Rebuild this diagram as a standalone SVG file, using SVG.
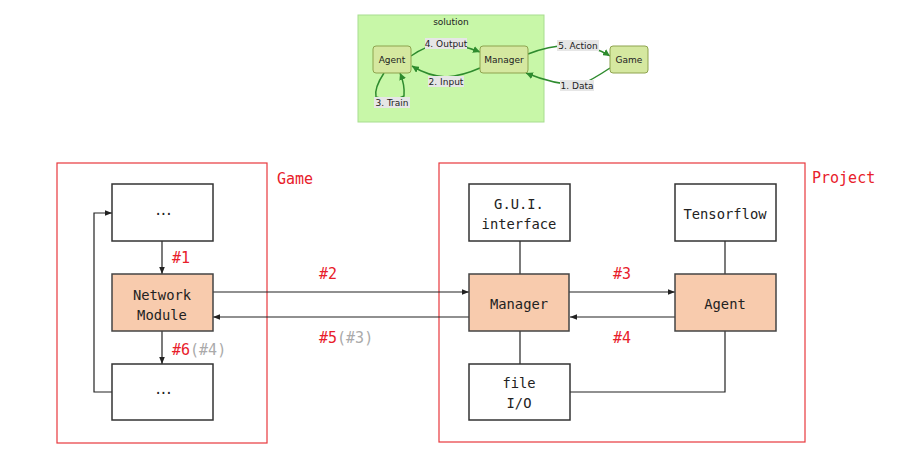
<svg xmlns="http://www.w3.org/2000/svg" width="898" height="461" viewBox="0 0 898 461">
<defs>
<marker id="arr" viewBox="0 0 10 10" refX="10" refY="5" markerWidth="7" markerHeight="7" orient="auto-start-reverse" markerUnits="userSpaceOnUse"><path d="M0,1 L10,5 L0,9 z" fill="#222"/></marker>
<marker id="garr" viewBox="0 0 10 10" refX="10" refY="5" markerWidth="7" markerHeight="7" orient="auto-start-reverse" markerUnits="userSpaceOnUse"><path d="M0,0 L10,5 L0,10 z" fill="#2e8b2e"/></marker>
<style>
.box{fill:#fff;stroke:#333;stroke-width:1.5}
.hot{fill:#f8cbad;stroke:#444;stroke-width:1.5}
.cont{fill:none;stroke:#e8383d;stroke-width:1.2}
.t{font-family:"DejaVu Sans Mono",monospace;font-size:13.8px;fill:#222;text-anchor:middle}
.r{font-family:"DejaVu Sans Mono",monospace;font-size:15px;fill:#e8202a}
.g{fill:#aaa}
.ln{fill:none;stroke:#222;stroke-width:1.2}
.gn{fill:#d5e8a0;stroke:#8ea34e;stroke-width:1}
.ge{fill:none;stroke:#2e8b2e;stroke-width:1.5}
.gl{fill:#e6e6e6}
.gt{font-family:"DejaVu Sans",sans-serif;font-size:9px;fill:#222;text-anchor:middle}
</style>
</defs>
<rect width="898" height="461" fill="#fff"/>

<g id="solution">
<rect x="358" y="15" width="186" height="107" fill="#c8f7a8" stroke="#a8dd90" stroke-width="1"/>
<text class="gt" x="451" y="25">solution</text>
</g>
<g id="inset-connectors">
<path class="ge" d="M411,56 Q425,46 440,44 Q460,44 480,52" marker-end="url(#garr)"/>
<path class="ge" d="M480,68 Q462,76 446,77 Q428,76 412,66" marker-end="url(#garr)"/>
<path class="ge" d="M528,54 Q548,46 570,45 Q595,46 610,56" marker-end="url(#garr)"/>
<path class="ge" d="M610,68 Q592,80 580,85 Q555,85 526,73" marker-end="url(#garr)"/>
<path class="ge" d="M384,73 Q374,88 376,97 Q392,102 404,96 Q405,85 400,73" marker-end="url(#garr)"/>
<rect class="gl" x="425" y="38" width="42" height="11"/>
<text class="gt" x="446" y="47">4. Output</text>
<rect class="gl" x="428" y="76" width="36" height="11"/>
<text class="gt" x="446" y="85">2. Input</text>
<rect class="gl" x="557" y="40" width="42" height="11"/>
<text class="gt" x="578" y="49">5. Action</text>
<rect class="gl" x="560" y="80" width="34" height="11"/>
<text class="gt" x="577" y="89">1. Data</text>
<rect class="gl" x="374" y="97" width="36" height="11"/>
<text class="gt" x="392" y="106">3. Train</text>
</g>
<g id="s-agent"><rect class="gn" x="373" y="46" width="38" height="27" rx="3"/><text class="gt" x="392" y="63">Agent</text></g>
<g id="s-manager"><rect class="gn" x="480" y="46" width="48" height="27" rx="3"/><text class="gt" x="504" y="63">Manager</text></g>
<g id="s-game"><rect class="gn" x="610" y="46" width="38" height="27" rx="3"/><text class="gt" x="629" y="63">Game</text></g>

<g id="game">
<rect class="cont" x="57" y="163" width="210" height="280"/>
<text class="r" x="277" y="184">Game</text>
</g>
<g id="project">
<rect class="cont" x="439" y="163" width="366" height="279"/>
<text class="r" x="812" y="183">Project</text>
</g>

<g id="connectors">
<line class="ln" x1="162" y1="241" x2="162" y2="274" marker-end="url(#arr)"/>
<line class="ln" x1="162" y1="331" x2="162" y2="364" marker-end="url(#arr)"/>
<polyline class="ln" points="112,392 94,392 94,213 112,213" marker-end="url(#arr)"/>
<line class="ln" x1="213" y1="292" x2="469" y2="292" marker-end="url(#arr)"/>
<line class="ln" x1="469" y1="317" x2="213" y2="317" marker-end="url(#arr)"/>
<line class="ln" x1="569" y1="292" x2="675" y2="292" marker-end="url(#arr)"/>
<line class="ln" x1="675" y1="317" x2="570" y2="317" marker-end="url(#arr)"/>
<line class="ln" x1="520" y1="241" x2="520" y2="274"/>
<line class="ln" x1="520" y1="331" x2="520" y2="364"/>
<line class="ln" x1="725" y1="241" x2="725" y2="274"/>
<polyline class="ln" points="725,331 725,392 570,392"/>
<text class="r" x="172" y="263">#1</text>
<text class="r" x="172" y="355">#6<tspan class="g">(#4)</tspan></text>
<text class="r" x="319" y="279">#2</text>
<text class="r" x="319" y="343">#5<tspan class="g">(#3)</tspan></text>
<text class="r" x="613" y="279">#3</text>
<text class="r" x="613" y="343">#4</text>
</g>

<g id="top-box"><rect class="box" x="112" y="184" width="101" height="57"/><text class="t" x="162" y="215" letter-spacing="-3">...</text></g>
<g id="network-module"><rect class="hot" x="112" y="274" width="101" height="57"/><text class="t" x="162" y="300">Network</text><text class="t" x="162" y="320">Module</text></g>
<g id="bottom-box"><rect class="box" x="112" y="364" width="101" height="56"/><text class="t" x="162" y="394" letter-spacing="-3">...</text></g>
<g id="gui"><rect class="box" x="469" y="184" width="101" height="57"/><text class="t" x="519" y="209">G.U.I.</text><text class="t" x="519" y="229">interface</text></g>
<g id="tensorflow"><rect class="box" x="675" y="184" width="101" height="57"/><text class="t" x="725" y="219">Tensorflow</text></g>
<g id="manager"><rect class="hot" x="469" y="274" width="100" height="57"/><text class="t" x="519" y="309">Manager</text></g>
<g id="agent"><rect class="hot" x="675" y="274" width="101" height="57"/><text class="t" x="725" y="309">Agent</text></g>
<g id="file-io"><rect class="box" x="469" y="364" width="101" height="56"/><text class="t" x="519" y="388">file</text><text class="t" x="519" y="408">I/O</text></g>
</svg>
